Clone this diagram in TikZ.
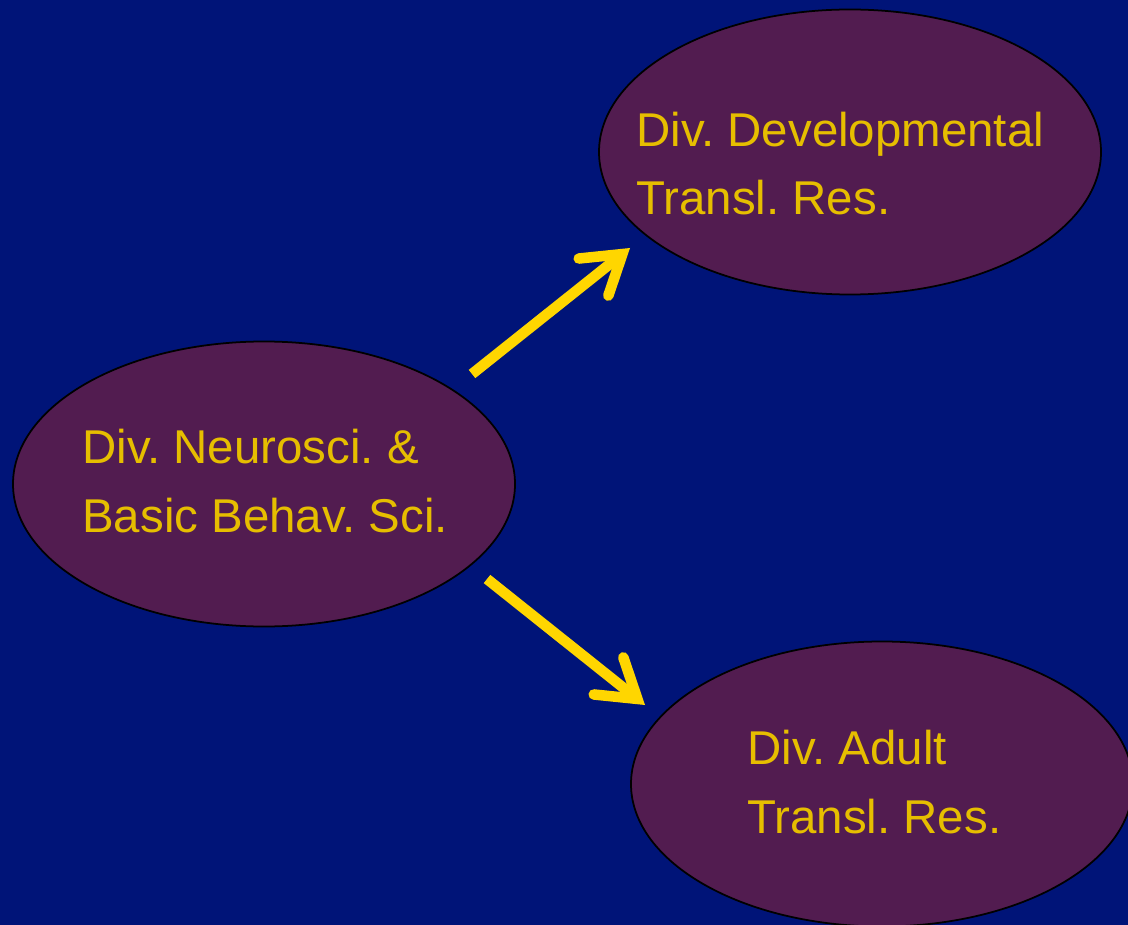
\documentclass[tikz,border=0pt]{standalone}
\usepackage{fontspec}
\setmainfont{Liberation Sans}
\usetikzlibrary{shapes.geometric,arrows.meta}
\definecolor{bgblue}{RGB}{0,20,120}
\definecolor{ellfill}{RGB}{82,28,80}
\definecolor{txtgold}{RGB}{230,190,0}
\definecolor{arrgold}{RGB}{255,214,0}
\frenchspacing
\tikzset{
  division/.style={ellipse, draw=black, line width=1pt, fill=ellfill,
    minimum width=502*0.02cm, minimum height=285*0.02cm, inner sep=0pt},
  divtext/.style={anchor=base west, text=txtgold, align=left,
    font=\fontsize{27pt}{39pt}\selectfont\frenchspacing, inner sep=0pt},
  flow/.style={draw=arrgold, line width=6pt,
    -{Straight Barb[length=21pt,width=27pt,line cap=round,line join=miter]}},
}
\begin{document}
\begin{tikzpicture}[x=0.02cm,y=-0.02cm]
\fill[bgblue] (0,0) rectangle (1128,925);
\useasboundingbox (0,0) rectangle (1128,925);
\begin{scope}
\clip (0,0) rectangle (1128,925);
\node[division] (neuro) at (264,484) {};
\node[division] (dev) at (850,152) {};
\node[division] (adult) at (882,784) {};
\end{scope}
\node[divtext] (neurot) at (82,532) {Div. Neurosci. \&\\Basic Behav. Sci.};
\node[divtext] (devt) at (636,215) {Div. Developmental\\Transl. Res.};
\node[divtext] (adultt) at (747,833) {Div. Adult\\Transl. Res.};
\coordinate (upstart) at (472,374);
\coordinate (upend) at (630,248);
\coordinate (downstart) at (487,579);
\coordinate (downend) at (645,705);
\draw[flow] (upstart) -- (upend);
\draw[flow] (downstart) -- (downend);
\end{tikzpicture}
\end{document}
